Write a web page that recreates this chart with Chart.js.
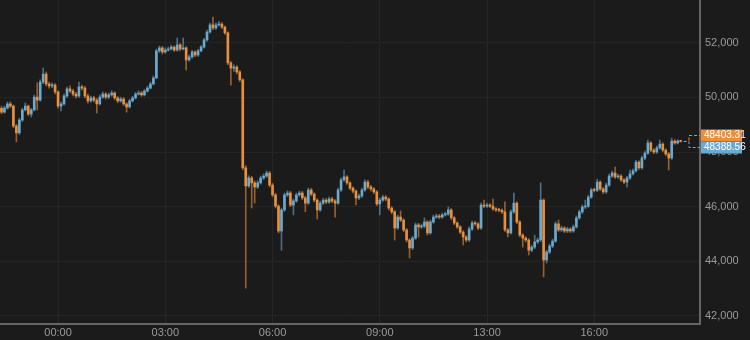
<!DOCTYPE html>
<html>
<head>
<meta charset="utf-8">
<script src="https://cdn.jsdelivr.net/npm/chart.js@4"></script>
<style>
  html, body { margin: 0; padding: 0; background: #1b1b1b; }
  #wrap { width: 750px; height: 340px; }
</style>
</head>
<body>
<div id="wrap"><canvas id="priceChart"></canvas></div>
<script>
// 5 minute candles, open of each bar is the close of the one before
const firstOpen = 49600;

const closes = [
  49460,49610,49760,49680,48950,48700,49170,49540,49680,49390,
  49540,50010,49900,50560,50850,50490,50420,50450,50200,49680,
  49760,50050,50310,50230,50120,50050,50380,50340,50050,49870,
  49980,49900,49760,50010,50120,50010,50090,50160,49980,49870,
  49940,49760,49650,49870,49980,50120,50160,50090,50230,50340,
  50490,50710,51700,51810,51660,51730,51770,51840,51730,51920,
  51770,51810,51370,51480,51660,51550,51700,51840,52100,52390,
  52650,52540,52650,52680,52570,52360,51260,51070,51110,50930,
  50640,47420,46760,47050,46870,46720,46870,47050,47120,47230,
  46790,46430,46020,45110,45880,46430,46500,46060,46210,46430,
  46500,46320,46130,46610,46460,46240,45880,46130,46240,46170,
  46280,46210,46130,46610,46980,47090,46870,46680,46570,46320,
  46390,46610,46900,46720,46650,46540,46100,46240,46350,46280,
  45950,45810,45220,45620,45510,45150,44780,44490,44850,45330,
  45260,45290,45440,45040,45440,45620,45660,45620,45700,45730,
  45880,45590,45400,45260,45070,44890,44780,45180,45400,45370,
  45220,46060,46020,46060,46020,45920,45880,45870,45810,45150,
  45040,45810,46130,45440,44960,44850,44780,44410,44520,44710,
  44780,46240,44050,44340,44560,44740,45370,45150,45220,45110,
  45180,45110,45260,45590,45810,45990,46020,46350,46610,46600,
  46900,46650,46540,46790,47120,47230,47090,47120,46980,46900,
  47050,47200,47310,47630,47420,47780,47960,48330,48070,48000,
  48150,48290,48070,47930,47780,48400,48330,48400,48388.56
];

const highs = [
  49680,49680,49830,49830,49720,49010,49230,49600,49790,49720,
  49600,50080,50530,50640,51070,50930,50560,50530,50500,50240,
  49830,50120,50380,50420,50290,50180,50560,50450,50400,50120,
  50050,50040,49960,50090,50200,50170,50160,50240,50200,50030,
  50010,49990,49800,49930,50040,50180,50240,50220,50290,50410,
  50560,50780,51770,51880,51860,51810,51840,51910,51880,52170,
  51970,52170,51850,51550,51720,51700,51760,51900,52160,52460,
  52720,52940,52730,52780,52740,52610,52400,51320,51190,51160,
  50980,50680,47500,47130,47110,46940,46950,47120,47200,47310,
  47290,46850,46490,46070,45950,46500,46580,46560,46280,46500,
  46570,46560,46380,46680,46670,46510,46290,46200,46310,46300,
  46350,46340,46260,46680,47050,47340,47140,46920,46730,46620,
  46460,46680,46980,46960,46780,46700,46590,46310,46420,46410,
  46330,46000,45860,45690,45850,45560,45200,44830,44920,45400,
  45390,45360,45590,45490,45510,45690,45730,45720,45770,45800,
  45990,45930,45640,45450,45310,45120,44940,45250,45470,45460,
  45420,46130,46240,46130,46110,46280,45970,45940,45920,46180,
  45200,45880,46500,46180,45490,45010,44900,44830,44590,44960,
  44850,46870,46290,44410,44630,44810,45440,45510,45290,45270,
  45250,45230,45330,45660,45880,46060,46240,46420,46680,46680,
  47010,46950,46700,46860,47190,47300,47450,47190,47170,47030,
  47110,47340,47380,47700,47680,47850,48030,48440,48380,48120,
  48220,48440,48340,48120,47980,48510,48450,48450,48430
];

const lows = [
  49400,49420,49570,49620,48890,48370,48640,49120,49500,49330,
  49280,49500,49540,49860,50500,50420,50340,50350,50130,49600,
  49500,49710,50000,50180,50050,49980,50000,50270,49980,49790,
  49820,49830,49430,49720,49960,49940,49950,50040,49920,49800,
  49820,49700,49460,49610,49830,49940,50080,50040,50050,50190,
  50300,50450,50680,51640,51590,51610,51690,51730,51680,51690,
  51700,51730,51000,51320,51430,51490,51500,51660,51800,52060,
  52350,52480,52490,52600,52510,52300,51200,50450,50950,50860,
  50580,47350,43020,46700,45950,46130,46660,46820,46990,47070,
  46720,46360,45950,45040,44410,45830,46370,46000,45700,46160,
  46380,46260,45810,46080,46400,46180,45550,45830,46080,46110,
  46120,46150,45620,46080,46560,46930,46810,46620,46500,46060,
  46260,46340,46560,46660,46580,46480,46040,45700,46190,46220,
  45880,45740,44780,45170,45450,45080,44710,44120,44430,44800,
  44890,45200,45230,44960,44990,45390,45570,45560,45570,45650,
  45680,45530,45340,45200,45010,44600,44710,44730,45130,45310,
  45160,45170,45960,45970,45960,45860,45820,45810,45750,45090,
  44890,44990,45760,45380,44900,44520,44710,44230,44350,44460,
  44650,44720,43430,43940,44280,44500,44690,45090,45090,45050,
  45050,45050,45060,45210,45540,45750,45930,45970,46300,46540,
  46550,46590,46480,46490,46740,47070,47030,47030,46920,46840,
  46720,47000,47150,47260,47360,47370,47720,47910,48010,47940,
  47950,48100,48010,47870,47340,47730,48280,48290,48360
];

// bar slots on the x axis (a few empty ones after the last candle)
const slotCount = 235;
const tickSlots = [19, 55, 91, 127, 163, 199];
const tickLabels = ['00:00', '03:00', '06:00', '09:00', '13:00', '16:00'];
const priceTicks = [42000, 44000, 46000, 48000, 50000, 52000];

// price tags at the right edge
const tagPrices = [48403.31, 48388.56];

const UP = '#6ba9cf';
const DOWN = '#e8903c';
const UP_WICK = 'rgba(107,169,207,0.6)';
const DOWN_WICK = 'rgba(232,144,60,0.6)';

const opens = closes.map((c, i) => i === 0 ? firstOpen : closes[i - 1]);
const isUp = closes.map((c, i) => c >= opens[i]);

const slots = Array.from({ length: slotCount }, (_, i) => i);
const labelAt = {};
tickSlots.forEach((s, k) => { labelAt[s] = tickLabels[k]; });

const bgPlugin = {
  id: 'bg',
  beforeDraw(chart) {
    const c = chart.ctx;
    c.save();
    c.fillStyle = '#1b1b1b';
    c.fillRect(0, 0, chart.width, chart.height);
    c.restore();
  }
};

const tagPlugin = {
  id: 'tags',
  afterDraw(chart) {
    const c = chart.ctx;
    const y = chart.scales.y;
    const x = chart.scales.x;
    const area = chart.chartArea;
    const mid = Math.round(y.getPixelForValue((tagPrices[0] + tagPrices[1]) / 2)) + 0.5;
    const lastX = x.getPixelForValue(closes.length - 1) + 3;
    const boxX = area.right - 11;

    c.save();
    c.lineWidth = 1;
    c.setLineDash([3, 2]);
    c.strokeStyle = DOWN;
    c.beginPath();
    c.moveTo(boxX, mid - 1);
    c.lineTo(boxX, mid - 6);
    c.lineTo(area.right, mid - 6);
    c.stroke();
    c.strokeStyle = UP;
    c.beginPath();
    c.moveTo(lastX, mid);
    c.lineTo(boxX, mid);
    c.lineTo(boxX, mid + 6);
    c.lineTo(area.right, mid + 6);
    c.stroke();
    c.setLineDash([]);

    const left = area.right + 1;
    c.fillStyle = DOWN;
    c.fillRect(left, mid - 12, 41, 12);
    c.fillStyle = UP;
    c.fillRect(left, mid, 41, 12);
    c.fillStyle = '#ffffff';
    c.font = '10px "Liberation Sans", Arial, sans-serif';
    c.textBaseline = 'middle';
    c.textAlign = 'left';
    c.fillText(tagPrices[0].toFixed(2), left + 3, mid - 6);
    c.fillText(tagPrices[1].toFixed(2), left + 3, mid + 6);
    c.restore();
  }
};

const ctx = document.getElementById('priceChart').getContext('2d');

new Chart(ctx, {
  type: 'bar',
  data: {
    labels: slots,
    datasets: [
      {
        label: 'wick',
        data: closes.map((c, i) => [lows[i], highs[i]]),
        backgroundColor: isUp.map(u => u ? UP_WICK : DOWN_WICK),
        barThickness: 1,
        grouped: false,
        order: 2
      },
      {
        label: 'body',
        data: closes.map((c, i) => [Math.min(opens[i], c), Math.max(opens[i], c)]),
        backgroundColor: isUp.map(u => u ? UP : DOWN),
        barThickness: 2,
        minBarLength: 1,
        grouped: false,
        order: 1
      }
    ]
  },
  options: {
    responsive: true,
    maintainAspectRatio: false,
    animation: false,
    events: [],
    layout: { padding: 0 },
    plugins: {
      legend: { display: false },
      tooltip: { enabled: false }
    },
    scales: {
      x: {
        type: 'category',
        offset: true,
        grid: {
          offset: false,
          drawTicks: false,
          color: c => (c.index in labelAt) ? '#262626' : 'rgba(0,0,0,0)'
        },
        border: { color: '#666666', width: 2 },
        afterFit: s => { s.height = 16; s.paddingLeft = 0; s.paddingRight = 0; },
        ticks: {
          autoSkip: false,
          maxRotation: 0,
          padding: 2,
          color: '#9a9a9a',
          font: { size: 11, family: '"Liberation Sans", Arial, sans-serif' },
          callback: (v, i) => labelAt[i] || ''
        }
      },
      y: {
        position: 'right',
        min: 41707,
        max: 53562,
        grid: { color: '#252525', drawTicks: false },
        border: { color: '#666666', width: 2 },
        afterFit: s => { s.width = 50; s.paddingTop = 0; s.paddingBottom = 0; },
        afterBuildTicks: s => { s.ticks = priceTicks.map(v => ({ value: v })); },
        ticks: {
          padding: 5,
          color: '#9a9a9a',
          font: { size: 11, family: '"Liberation Sans", Arial, sans-serif' },
          callback: v => v.toLocaleString('en-US')
        }
      }
    }
  },
  plugins: [bgPlugin, tagPlugin]
});
</script>
</body>
</html>
